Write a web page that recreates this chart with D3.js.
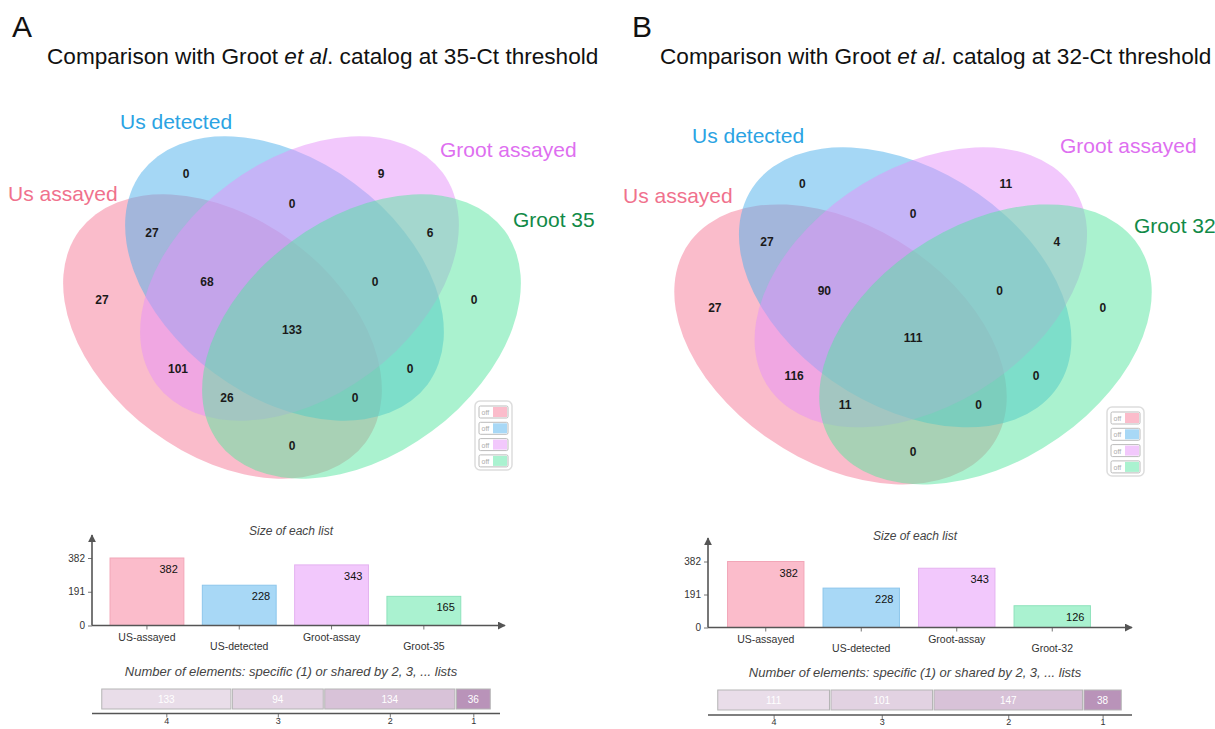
<!DOCTYPE html>
<html>
<head>
<meta charset="utf-8">
<script src="https://cdn.jsdelivr.net/npm/d3@7"></script>
<style>
  body { margin: 0; background: #fff; }
  svg { display: block; font-family: "Liberation Sans", Arial, sans-serif; }
</style>
</head>
<body>
<div id="chart"></div>
<script>
// ---- data ----
var setLabels35 = ["Us assayed", "Us detected", "Groot assayed", "Groot 35"];
var setLabels32 = ["Us assayed", "Us detected", "Groot assayed", "Groot 32"];
var listNames35 = ["US-assayed", "US-detected", "Groot-assay", "Groot-35"];
var listNames32 = ["US-assayed", "US-detected", "Groot-assay", "Groot-32"];
var listSizes35 = [382, 228, 343, 165];
var listSizes32 = [382, 228, 343, 126];
var sizeTicks = [0, 191, 382];

// region key = membership in (Us assayed, Us detected, Groot assayed, Groot xx)
var regionKeys = ["1000", "0100", "0010", "0001", "1100", "0110", "0011", "1110",
                  "0111", "1111", "1010", "0101", "1011", "1101", "1001"];
var regionCounts35 = [27, 0, 9, 0, 27, 0, 6, 68, 0, 133, 101, 0, 26, 0, 0];
var regionCounts32 = [27, 0, 11, 0, 27, 0, 4, 90, 0, 111, 116, 0, 11, 0, 0];

var sharedLevels = ["4", "3", "2", "1"];
var sharedCounts35 = [133, 94, 134, 36];
var sharedCounts32 = [111, 101, 147, 38];

// ---- styling / layout ----
var svgWidth = 1215;
var svgHeight = 729;

var setColors = ["#f57997", "#4bafeb", "#e591f9", "#55e59f"];
var labelColors = ["#f0718d", "#2ba3e3", "#de6ff0", "#118a47"];
var barFill = ["#fbbccb", "#a8d8f6", "#f2c8fc", "#aaf2d0"];
var barStroke = ["#f2a6b8", "#8dc6ec", "#e4b2f0", "#8ee2bc"];
var segFill = ["#e9dde9", "#e2d2e2", "#d8c2d8", "#b993b9"];

// 4-ellipse template, local coords around the 4-way centre
var ellA = 178, ellB = 118, ellAngle = 36.5;
var ellCentres = [[-69.5, 6.5, 1], [-7.5, -51.5, 1], [7.5, -51.5, -1], [69.5, 6.5, -1]];
var regionAnchor = {
  "1000": [-190, -30], "0100": [-106, -156], "0010": [89, -156], "0001": [182, -30],
  "1100": [-140, -97], "0110": [0, -126], "0011": [138, -97],
  "1110": [-85, -48], "0111": [83, -48], "1111": [0, 0],
  "1010": [-114, 39], "0101": [118, 39], "1011": [-65, 68], "1101": [63, 68], "1001": [0, 116]
};

var panels = [
  {
    letter: "A", letterX: 12, titleX: 47, threshold: "35",
    setLabels: setLabels35, listNames: listNames35, listSizes: listSizes35,
    regionCounts: regionCounts35, sharedCounts: sharedCounts35,
    venn: { cx: 292, cy: 330, sx: 1, sy: 1 },
    labelPos: [[8, 201], [120, 129], [440, 157], [513, 227]],
    legend: [475, 401],
    bars: { axisX: 92, x0: 100.8, x1: 470, y0: 625.5, yTop: 558, arrowTop: 535, arrowRight: 505, midX: 291, t1: 535, t2: 676 },
    stack: { x0: 101, x1: 491, y: 689, h: 20, axisY: 713.5, axisL: 92, axisR: 500 }
  },
  {
    letter: "B", letterX: 632, titleX: 660, threshold: "32",
    setLabels: setLabels32, listNames: listNames32, listSizes: listSizes32,
    regionCounts: regionCounts32, sharedCounts: sharedCounts32,
    venn: { cx: 913, cy: 338, sx: 1.043, sy: 0.985 },
    labelPos: [[623, 203], [692, 143], [1060, 153], [1134, 233]],
    legend: [1107, 407],
    bars: { axisX: 708, x0: 718, x1: 1100, y0: 627.5, yTop: 561.5, arrowTop: 538, arrowRight: 1132, midX: 915, t1: 540, t2: 677 },
    stack: { x0: 717, x1: 1122, y: 690, h: 20, axisY: 715, axisL: 708, axisR: 1132 }
  }
];

var svg = d3.select("#chart")
  .append("svg")
  .attr("width", svgWidth)
  .attr("height", svgHeight);

var defs = svg.append("defs");
defs.append("marker")
  .attr("id", "arrow")
  .attr("viewBox", "0 0 10 10")
  .attr("refX", 9).attr("refY", 5)
  .attr("markerWidth", 5).attr("markerHeight", 5)
  .attr("orient", "auto")
  .append("path")
  .attr("d", "M0,0 L10,5 L0,10 z")
  .attr("fill", "#555");

panels.forEach(function(p) {

  // Step 1: panel letter + title
  svg.append("text")
    .attr("x", p.letterX).attr("y", 37)
    .style("font-size", "30px")
    .attr("fill", "#111")
    .text(p.letter);

  var title = svg.append("text")
    .attr("x", p.titleX).attr("y", 64)
    .style("font-size", "22.6px")
    .attr("fill", "#111");
  title.append("tspan").text("Comparison with Groot ");
  title.append("tspan").style("font-style", "italic").text("et al");
  title.append("tspan").text(". catalog at " + p.threshold + "-Ct threshold");

  // Step 2: venn ellipses
  var v = p.venn;
  var vg = svg.append("g")
    .attr("transform", `translate(${v.cx}, ${v.cy}) scale(${v.sx}, ${v.sy})`);

  vg.selectAll("ellipse")
    .data(ellCentres)
    .enter()
    .append("ellipse")
    .attr("transform", d => `translate(${d[0]}, ${d[1]}) rotate(${d[2] * ellAngle})`)
    .attr("rx", ellA)
    .attr("ry", ellB)
    .attr("fill", (d, i) => setColors[i])
    .attr("fill-opacity", 0.5);

  // region counts
  svg.selectAll(null)
    .data(regionKeys)
    .enter()
    .append("text")
    .attr("x", d => v.cx + regionAnchor[d][0] * v.sx)
    .attr("y", d => v.cy + regionAnchor[d][1] * v.sy + 4)
    .style("text-anchor", "middle")
    .style("font-size", "12px")
    .style("font-weight", "bold")
    .attr("fill", "#1a1a1a")
    .text((d, i) => p.regionCounts[i]);

  // set names
  svg.selectAll(null)
    .data(p.setLabels)
    .enter()
    .append("text")
    .attr("x", (d, i) => p.labelPos[i][0])
    .attr("y", (d, i) => p.labelPos[i][1])
    .style("font-size", "21px")
    .attr("fill", (d, i) => labelColors[i])
    .text(d => d);

  // little on/off toggles
  var lg = svg.append("g").attr("transform", `translate(${p.legend[0]}, ${p.legend[1]})`);
  lg.append("rect")
    .attr("width", 37).attr("height", 69).attr("rx", 5)
    .attr("fill", "#fff").attr("stroke", "#ddd").attr("stroke-width", 1.5);
  var tg = lg.selectAll("g.toggle")
    .data(setColors)
    .enter()
    .append("g")
    .attr("class", "toggle")
    .attr("transform", (d, i) => `translate(4, ${5 + i * 16.3})`);
  tg.append("rect")
    .attr("width", 29).attr("height", 12).attr("rx", 1.5)
    .attr("fill", "#fff").attr("stroke", "#bbb");
  tg.append("rect")
    .attr("x", 14).attr("y", 1).attr("width", 14).attr("height", 10)
    .attr("fill", (d, i) => barFill[i]);
  tg.append("text")
    .attr("x", 2.5).attr("y", 9)
    .style("font-size", "7px")
    .attr("fill", "#aaa")
    .text("off");

  // Step 3: size of each list
  var b = p.bars;
  var xBand = d3.scaleBand()
    .domain(p.listNames)
    .range([b.x0, b.x1])
    .paddingInner(0.2)
    .paddingOuter(0.1);
  var yLinear = d3.scaleLinear()
    .domain([0, d3.max(sizeTicks)])
    .range([b.y0, b.yTop]);

  svg.append("text")
    .attr("x", b.midX).attr("y", b.t1)
    .style("text-anchor", "middle")
    .style("font-size", "12px")
    .style("font-style", "italic")
    .attr("fill", "#444")
    .text("Size of each list");

  svg.selectAll(null)
    .data(p.listSizes)
    .enter()
    .append("rect")
    .attr("x", (d, i) => xBand(p.listNames[i]))
    .attr("y", d => yLinear(d))
    .attr("width", xBand.bandwidth())
    .attr("height", d => yLinear(0) - yLinear(d))
    .attr("fill", (d, i) => barFill[i])
    .attr("stroke", (d, i) => barStroke[i]);

  svg.selectAll(null)
    .data(p.listSizes)
    .enter()
    .append("text")
    .attr("x", (d, i) => xBand(p.listNames[i]) + xBand.bandwidth() - 6)
    .attr("y", d => yLinear(d) + 15)
    .style("text-anchor", "end")
    .style("font-size", "11px")
    .attr("fill", "#111")
    .text(d => d);

  var leftAxis = d3.axisLeft(yLinear).tickValues(sizeTicks).tickSize(4).tickPadding(3);
  var yg = svg.append("g")
    .attr("transform", `translate(${b.axisX}, 0)`)
    .call(leftAxis);
  yg.select(".domain").remove();
  yg.selectAll("line").attr("stroke", "#777");
  yg.selectAll("text").style("font-size", "10px").style("font-family", "Liberation Sans").attr("fill", "#333");

  var bottomAxis = d3.axisBottom(xBand).tickSize(4).tickPadding(4);
  var xg = svg.append("g")
    .attr("transform", `translate(0, ${b.y0})`)
    .call(bottomAxis);
  xg.select(".domain").remove();
  xg.selectAll("line").attr("stroke", "#777");
  xg.selectAll("text")
    .style("font-size", "10.5px").style("font-family", "Liberation Sans")
    .attr("fill", "#333")
    .attr("y", (d, i) => i % 2 ? 17 : 8);

  svg.append("line")
    .attr("x1", b.axisX).attr("y1", b.y0)
    .attr("x2", b.axisX).attr("y2", b.arrowTop)
    .attr("stroke", "#555").attr("stroke-width", 1.6)
    .attr("marker-end", "url(#arrow)");
  svg.append("line")
    .attr("x1", b.axisX).attr("y1", b.y0)
    .attr("x2", b.arrowRight).attr("y2", b.y0)
    .attr("stroke", "#555").attr("stroke-width", 1.6)
    .attr("marker-end", "url(#arrow)");

  // Step 4: specific / shared stacked bar
  var s = p.stack;
  svg.append("text")
    .attr("x", b.midX).attr("y", b.t2)
    .style("text-anchor", "middle")
    .style("font-size", "13px")
    .style("font-style", "italic")
    .attr("fill", "#444")
    .text("Number of elements: specific (1) or shared by 2, 3, ... lists");

  var total = d3.sum(p.sharedCounts);
  var xStack = d3.scaleLinear().domain([0, total]).range([s.x0, s.x1]);
  var ends = Array.from(d3.cumsum(p.sharedCounts));
  var starts = [0].concat(ends.slice(0, -1));

  svg.selectAll(null)
    .data(p.sharedCounts)
    .enter()
    .append("rect")
    .attr("x", (d, i) => xStack(starts[i]) + 0.75)
    .attr("y", s.y)
    .attr("width", (d, i) => xStack(ends[i]) - xStack(starts[i]) - 1.5)
    .attr("height", s.h)
    .attr("fill", (d, i) => segFill[i])
    .attr("stroke", "#b5b5b5")
    .attr("stroke-width", 1);

  svg.selectAll(null)
    .data(p.sharedCounts)
    .enter()
    .append("text")
    .attr("x", (d, i) => xStack(starts[i] + d / 2))
    .attr("y", s.y + 14)
    .style("text-anchor", "middle")
    .style("font-size", "10px")
    .attr("fill", "#fff")
    .text(d => d);

  var mids = p.sharedCounts.map((d, i) => starts[i] + d / 2);
  var stackAxis = d3.axisBottom(xStack)
    .tickValues(mids)
    .tickFormat((d, i) => sharedLevels[i])
    .tickSize(4)
    .tickPadding(0);
  var sg = svg.append("g")
    .attr("transform", `translate(0, ${s.axisY})`)
    .call(stackAxis);
  sg.select(".domain").remove();
  sg.selectAll("line").attr("stroke", "#777");
  sg.selectAll("text").style("font-size", "9px").style("font-family", "Liberation Sans").attr("fill", "#333");

  svg.append("line")
    .attr("x1", s.axisL).attr("y1", s.axisY)
    .attr("x2", s.axisR).attr("y2", s.axisY)
    .attr("stroke", "#555").attr("stroke-width", 1.6);
});
</script>
</body>
</html>
